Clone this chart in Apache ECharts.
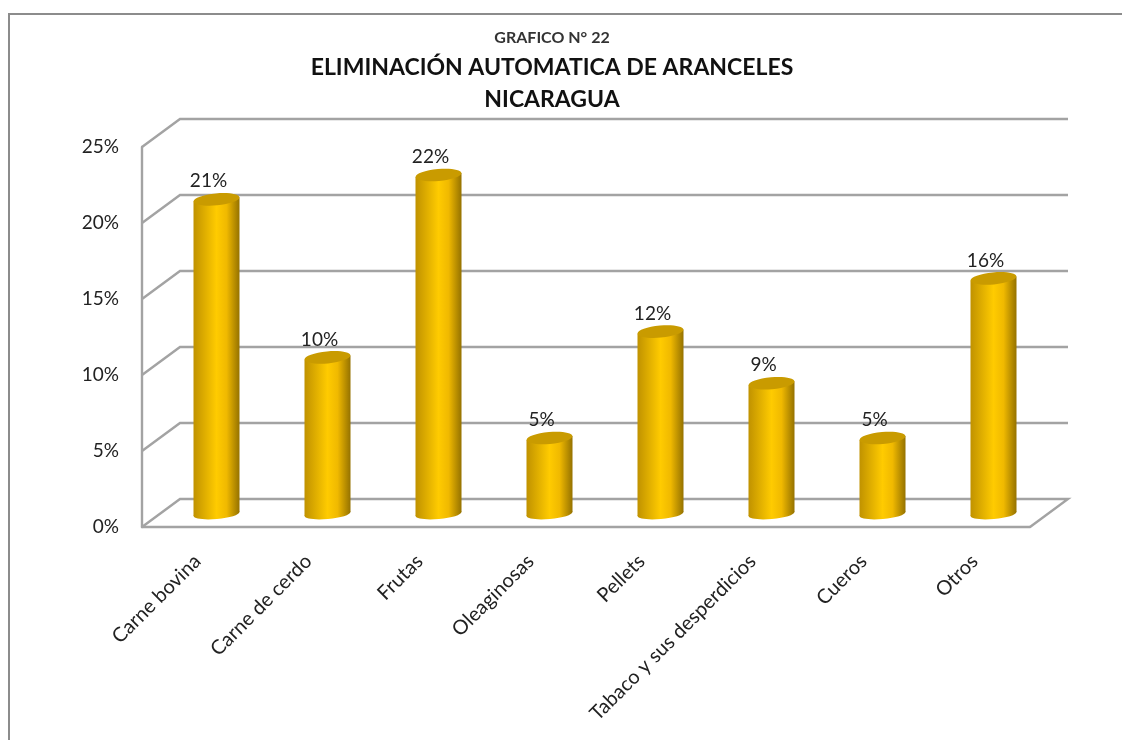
<!DOCTYPE html>
<html>
<head>
<meta charset="utf-8">
<title>Eliminación automatica de aranceles</title>
<script src="https://cdn.jsdelivr.net/npm/echarts@6/dist/echarts.min.js"></script>
<style>
  html, body { margin: 0; padding: 0; background: #fff; }
  #chart { width: 1122px; height: 740px; }
</style>
</head>
<body>
<div id="chart"></div>
<script>
const categories = ['Carne bovina', 'Carne de cerdo', 'Frutas', 'Oleaginosas', 'Pellets', 'Tabaco y sus desperdicios', 'Cueros', 'Otros']
const shares = [20.7, 10.3, 22.3, 5.0, 12.0, 8.6, 5.0, 15.5]
const yTicks = [0, 5, 10, 15, 20, 25]

const FONT = 'Lato, "Open Sans", sans-serif'
// depth of the fake 3d box, in px
const DEPTH_X = 38
const DEPTH_Y = 28
const BAR_W = 46

const chart = echarts.init(document.getElementById('chart'))

function renderWall(params, api) {
  const sys = params.coordSys
  const y = api.coord([0, api.value(1)])[1]
  const isFloor = api.value(1) === 0
  const points = [
    [sys.x, y],
    [sys.x + DEPTH_X, y - DEPTH_Y],
    [sys.x + sys.width + DEPTH_X, y - DEPTH_Y],
  ]
  if (isFloor) points.push([sys.x + sys.width, y])
  return {
    type: 'polyline',
    shape: { points },
    style: { stroke: '#a3a3a3', lineWidth: 2.4, fill: null },
  }
}

function renderBar(params, api) {
  const idx = api.value(0)
  const val = api.value(1)
  const cx = api.coord([idx, val])[0] + DEPTH_X / 2
  const top = api.coord([idx, val])[1] - DEPTH_Y / 2 + 1
  const base = api.coord([idx, 0])[1] - DEPTH_Y / 2 + 1
  const l = cx - BAR_W / 2
  const r = cx + BAR_W / 2
  const side = new echarts.graphic.LinearGradient(0, 0, 1, 0, [
    { offset: 0, color: '#c09200' },
    { offset: 0.5, color: '#ffcb00' },
    { offset: 0.72, color: '#f0b900' },
    { offset: 1, color: '#957200' },
  ])
  return {
    type: 'group',
    children: [
      {
        type: 'ellipse',
        shape: { cx, cy: base, rx: BAR_W / 2, ry: 5 },
        rotation: 0.09,
        originX: cx,
        originY: base,
        style: { fill: side },
      },
      {
        type: 'polygon',
        shape: { points: [[l, top + 2], [r, top - 2], [r, base - 2], [l, base + 2]] },
        style: { fill: side },
      },
      {
        type: 'ellipse',
        shape: { cx, cy: top, rx: BAR_W / 2, ry: 6 },
        rotation: 0.09,
        originX: cx,
        originY: top,
        style: { fill: '#c99b00' },
      },
      {
        type: 'text',
        style: {
          text: Math.round(val) + '%',
          x: cx - 8,
          y: top - 18,
          align: 'center',
          verticalAlign: 'middle',
          font: '19px ' + FONT,
          fill: '#222',
        },
      },
    ],
  }
}

chart.setOption({
  backgroundColor: '#fff',
  animation: false,
  title: [
    { text: 'GRAFICO N° 22', left: 547, top: 25, textAlign: 'center', textStyle: { fontFamily: FONT, fontSize: 16, fontWeight: 'bold', color: '#333' } },
    { text: 'ELIMINACIÓN AUTOMATICA DE ARANCELES', left: 547, top: 51, textAlign: 'center', textStyle: { fontFamily: FONT, fontSize: 23, fontWeight: 'bold', color: '#111' } },
    { text: 'NICARAGUA', left: 547, top: 83, textAlign: 'center', textStyle: { fontFamily: FONT, fontSize: 23, fontWeight: 'bold', color: '#111' } },
  ],
  // outer chart frame, cut off by the screenshot at right and bottom
  graphic: [
    {
      type: 'polyline',
      silent: true,
      shape: { points: [[9, 740], [9, 14], [1122, 14]] },
      style: { stroke: '#8c8c8c', lineWidth: 2, fill: null },
    },
  ],
  grid: { left: 142, right: 92, top: 147, bottom: 213 },
  xAxis: {
    type: 'category',
    data: categories,
    axisTick: { show: false },
    axisLine: { lineStyle: { color: '#a3a3a3', width: 2.4 } },
    axisLabel: { interval: 0, rotate: 45, margin: 31, fontFamily: FONT, fontSize: 20, color: '#222' },
  },
  yAxis: {
    type: 'value',
    min: 0,
    max: 25,
    interval: 5,
    splitLine: { show: false },
    axisTick: { show: false },
    axisLine: { show: true, lineStyle: { color: '#a3a3a3', width: 2.4 } },
    axisLabel: { margin: 23, padding: [3, 0, 0, 0], fontFamily: FONT, fontSize: 19, color: '#222', formatter: '{value}%' },
  },
  series: [
    {
      type: 'custom',
      name: 'wall',
      silent: true,
      clip: false,
      z: 1,
      renderItem: renderWall,
      encode: { x: 0, y: 1 },
      data: yTicks.map((t) => [0, t]),
    },
    {
      type: 'custom',
      name: 'Participación',
      clip: false,
      z: 3,
      renderItem: renderBar,
      encode: { x: 0, y: 1 },
      data: shares.map((v, i) => [i, v]),
    },
  ],
})
</script>
</body>
</html>
